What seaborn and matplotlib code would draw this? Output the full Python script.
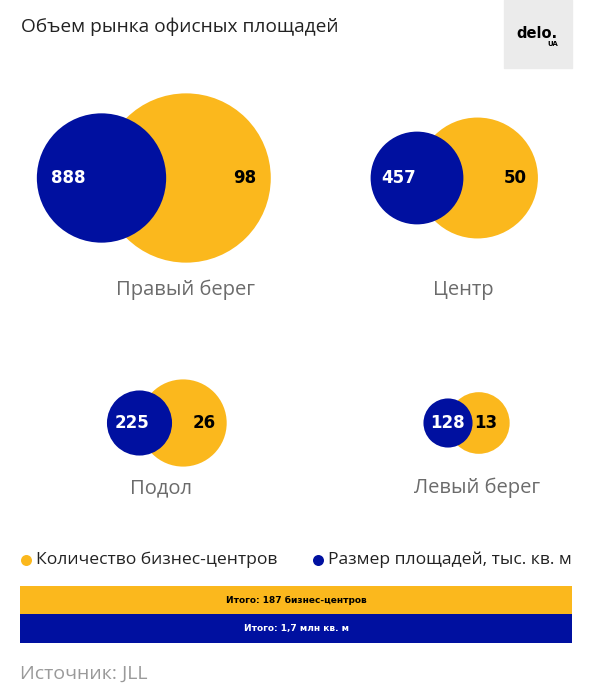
import numpy as np
import pandas as pd
import matplotlib.pyplot as plt
import seaborn as sns

# данные
districts = ['Правый берег', 'Центр', 'Подол', 'Левый берег']
area_k_m2 = [888, 457, 225, 128]      # размер площадей, тыс. кв. м
n_centers = [98, 50, 26, 13]          # количество бизнес-центров

YELLOW = '#FBB81D'
BLUE = '#0010A0'

# раскладка (пиксели)
anchor_x = [101.5, 417, 139.5, 448]   # центры синих кругов
anchor_y = [178, 178, 423, 423]
blue_txt_x = [68, 399, 132, 447]
yel_txt_x = [245, 515, 204, 486]
name_x = [185, 463, 161, 477]
name_y = [290, 290, 488, 488]

K_BLUE = 2.17   # px на sqrt(значения)
K_YEL = 8.55
PT = 0.72       # 1 px в пунктах при dpi=100

df = pd.DataFrame({'district': districts, 'area': area_k_m2, 'count': n_centers,
                   'bx': anchor_x, 'y': anchor_y})
df['r_yel'] = K_YEL * np.sqrt(df['count'])
df['yx'] = df['bx'] + df['r_yel']

sns.set_theme(style='white')
plt.rcParams['font.family'] = ['Open Sans', 'DejaVu Sans']

fig = plt.figure(figsize=(5.98, 7), dpi=100)
ax = fig.add_axes([0, 0, 1, 1])

# жёлтые круги: площадь ~ количество
vmax_c = max(n_centers)
smax_c = (2 * PT * K_YEL) ** 2 * vmax_c
sns.scatterplot(data=df, x='yx', y='y', size='count', sizes=(0, smax_c),
                size_norm=(0, vmax_c), color=YELLOW, linewidth=0,
                legend=False, ax=ax, zorder=2)

# синие круги: площадь ~ размер площадей
vmax_a = max(area_k_m2)
smax_a = (2 * PT * K_BLUE) ** 2 * vmax_a
sns.scatterplot(data=df, x='bx', y='y', size='area', sizes=(0, smax_a),
                size_norm=(0, vmax_a), color=BLUE, linewidth=0,
                legend=False, ax=ax, zorder=3)

for i, row in df.iterrows():
    ax.text(blue_txt_x[i], row['y'], str(row['area']), color='white',
            fontsize=12, fontweight='bold', ha='center', va='center',
            family=['DejaVu Sans'], zorder=4)
    ax.text(yel_txt_x[i], row['y'], str(row['count']), color='black',
            fontsize=12, fontweight='bold', ha='center', va='center',
            family=['DejaVu Sans'], zorder=4)
    ax.text(name_x[i], name_y[i], row['district'], color='#6b6b6b',
            fontsize=14.5, ha='center', va='center')

# заголовок
ax.text(21, 27, 'Объем рынка офисных площадей', fontsize=13.8, color='#222222',
        ha='left', va='center')

# логотип
ax.add_patch(plt.Rectangle((504, 0), 68, 68, color='#ebebeb', zorder=1))
ax.text(537, 34, 'delo.', fontsize=10.5, fontweight='bold', color='black',
        ha='center', va='center', family=['DejaVu Sans'], zorder=2)
ax.text(553, 44, 'UA', fontsize=5, fontweight='bold', color='black',
        ha='center', va='center', family=['DejaVu Sans'], zorder=2)

# легенда
ax.scatter([26], [560], s=(11 * PT) ** 2, color=YELLOW, linewidth=0)
ax.text(36, 560, 'Количество бизнес-центров', fontsize=12.6, color='#222222',
        ha='left', va='center')
ax.scatter([318], [560], s=(11 * PT) ** 2, color=BLUE, linewidth=0)
ax.text(328, 560, 'Размер площадей, тыс. кв. м', fontsize=12.6, color='#222222',
        ha='left', va='center')

# итоговые полосы
total_count = sum(n_centers)
total_area = sum(area_k_m2) / 1000
ax.add_patch(plt.Rectangle((20, 586), 552, 28, color=YELLOW, linewidth=0))
ax.add_patch(plt.Rectangle((20, 614), 552, 29, color=BLUE, linewidth=0))
ax.text(296, 600, f'Итого: {total_count} бизнес-центров', fontsize=6.5,
        fontweight='bold', color='black', ha='center', va='center',
        family=['DejaVu Sans'])
ax.text(296, 629, f'Итого: {total_area:.1f} млн кв. м'.replace('.', ',', 1),
        fontsize=6.5, fontweight='bold', color='white', ha='center', va='center',
        family=['DejaVu Sans'])

# источник
ax.text(20, 674, 'Источник: JLL', fontsize=14, color='#9a9a9a',
        ha='left', va='center')

ax.set_xlim(0, 598)
ax.set_ylim(700, 0)
ax.axis('off')

plt.savefig('out.png', dpi=100)
plt.close()
